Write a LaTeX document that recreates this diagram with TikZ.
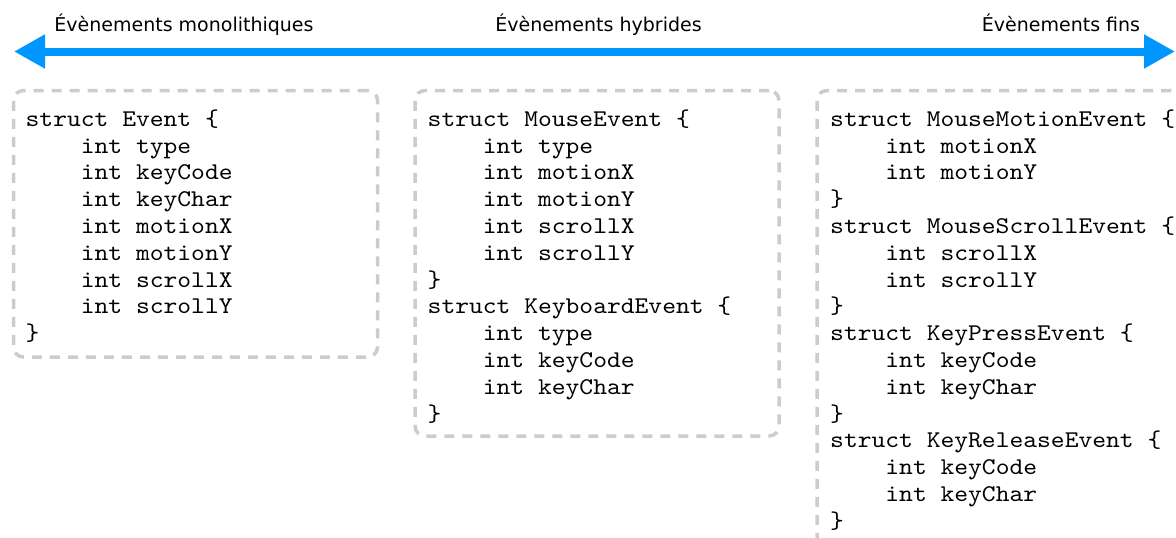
\documentclass[tikz,border=0pt]{standalone}
\usepackage{fontspec}
\newfontfamily\labelfont{DejaVu Sans}
\newfontfamily\codefont{lmmono10-regular.otf}[FakeStretch=1.095]
\usetikzlibrary{arrows.meta}
\definecolor{axisblue}{RGB}{0,150,255}
\definecolor{dashgray}{RGB}{204,204,204}
\newcommand{\ind}{\hspace*{55.2pt}}
\newcommand{\fst}{\rule{0pt}{22pt}}
\begin{document}
\begin{tikzpicture}[x=1pt,y=-1pt,
  lbl/.style={font=\labelfont\fontsize{19}{22}\selectfont, inner sep=0pt, anchor=base},
  codebox/.style={draw=dashgray, line width=3.5pt, dash pattern=on 10pt off 8pt,
    rounded corners=10pt, minimum width=364pt, inner sep=0pt, outer sep=0pt, anchor=north west},
  code/.style={font=\codefont\fontsize{24}{26.8}\selectfont, align=left, inner sep=0pt, anchor=north west},
  spectrum/.style={line width=8pt, draw=axisblue,
    {Triangle[length=31pt,width=32pt]}-{Triangle[length=31pt,width=32pt]}}
]
\useasboundingbox (0,0) rectangle (1176,538);
\clip (0,0) rectangle (1176,538);

\coordinate (leftend) at (14,51.5);
\coordinate (rightend) at (1175,51.5);
\draw[spectrum] (leftend) -- (rightend);

\node[lbl] (l1) at (184,31) {Évènements monolithiques};
\node[lbl] (l2) at (598.5,31) {Évènements hybrides};
\node[lbl] (l3) at (1061,31) {Évènements fins};

\node[codebox, minimum height=266.5pt] (b1) at (13.5,90.5) {};
\node[codebox, minimum height=345.5pt] (b2) at (415,90.5) {};
\node[codebox, minimum height=455pt] (b3) at (817,90.5) {};

\node[code] (c1) at (25.5,104) {\fst struct Event \{\\
\ind int type\\
\ind int keyCode\\
\ind int keyChar\\
\ind int motionX\\
\ind int motionY\\
\ind int scrollX\\
\ind int scrollY\\
\}};

\node[code] (c2) at (427.5,104) {\fst struct MouseEvent \{\\
\ind int type\\
\ind int motionX\\
\ind int motionY\\
\ind int scrollX\\
\ind int scrollY\\
\}\\
struct KeyboardEvent \{\\
\ind int type\\
\ind int keyCode\\
\ind int keyChar\\
\}};

\node[code] (c3) at (830,104) {\fst struct MouseMotionEvent \{\\
\ind int motionX\\
\ind int motionY\\
\}\\
struct MouseScrollEvent \{\\
\ind int scrollX\\
\ind int scrollY\\
\}\\
struct KeyPressEvent \{\\
\ind int keyCode\\
\ind int keyChar\\
\}\\
struct KeyReleaseEvent \{\\
\ind int keyCode\\
\ind int keyChar\\
\}};
\end{tikzpicture}
\end{document}
